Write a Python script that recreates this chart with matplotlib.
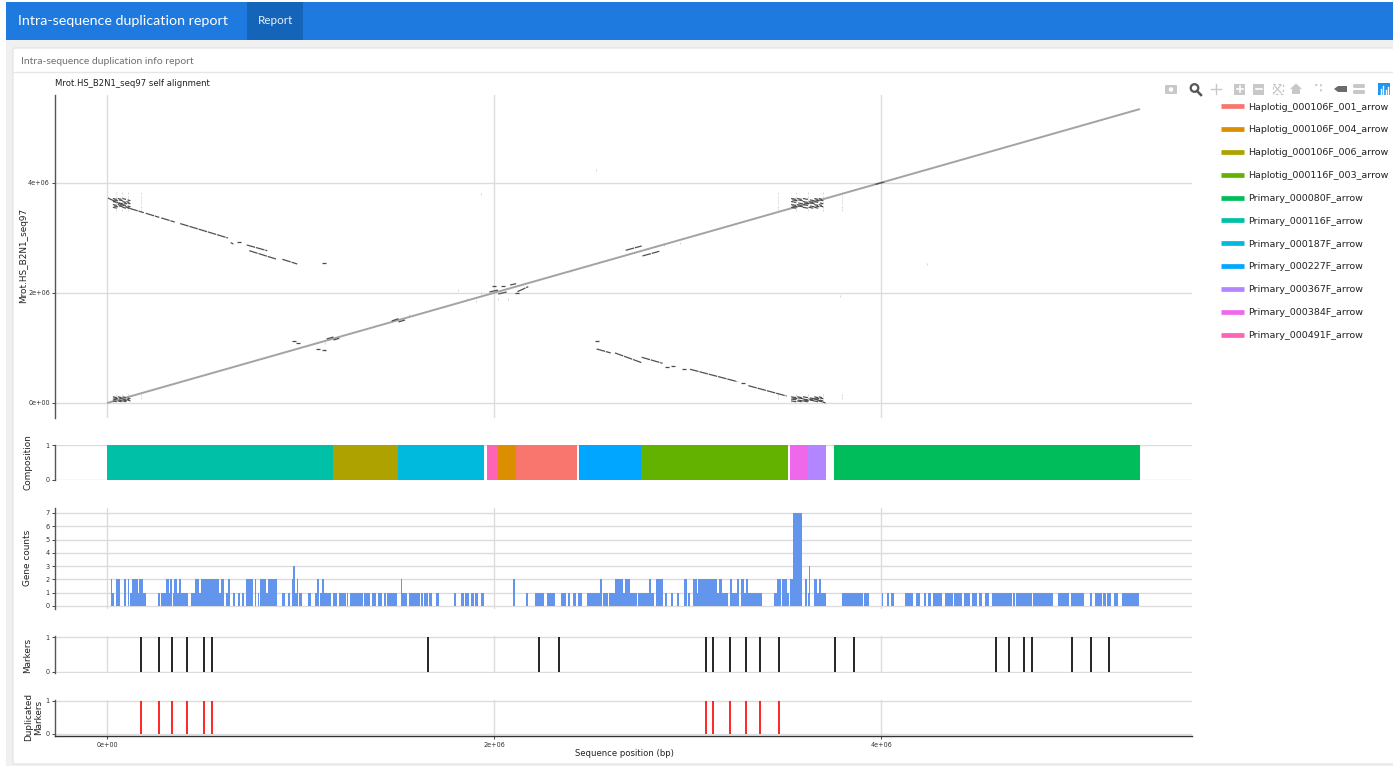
import matplotlib
matplotlib.use("Agg")
import matplotlib.pyplot as plt
from matplotlib.patches import Rectangle, Circle, Polygon, FancyBboxPatch
from matplotlib.lines import Line2D

W, H = 1393, 766
UI_FONT = "Lato"
PLOT_FONT = "DejaVu Sans"

# ---------- data (positions in kb) ----------
contig_names = ["Haplotig_000106F_001_arrow", "Haplotig_000106F_004_arrow", "Haplotig_000106F_006_arrow",
                "Haplotig_000116F_003_arrow", "Primary_000080F_arrow", "Primary_000116F_arrow",
                "Primary_000187F_arrow", "Primary_000227F_arrow", "Primary_000367F_arrow",
                "Primary_000384F_arrow", "Primary_000491F_arrow"]
contig_colors = ["#F8766D", "#DB8E00", "#AEA200", "#64B200", "#00BD5C", "#00C1A7",
                 "#00BADE", "#00A6FF", "#B385FF", "#EF67EB", "#FF63B6"]
contig_start = [2114, 2021, 1168, 2760, 3757, 0, 1504, 2439, 3623, 3530, 1964]
contig_end = [2429, 2114, 1504, 3519, 5338, 1168, 1948, 2760, 3716, 3623, 2021]

gene_start = [19, 26, 48, 86, 109, 119, 131, 158, 164, 184, 262, 277, 303, 320, 326, 339, 346, 362, 372, 381, 434, 455,
              475, 486, 581, 591, 617, 627, 649, 677, 698, 720, 765, 779, 791, 820, 830, 904, 934, 956, 963, 972, 980,
              992, 1041, 1077, 1087, 1101, 1113, 1122, 1168, 1199, 1240, 1254, 1330, 1370, 1401, 1432, 1445, 1518, 1526,
              1562, 1621, 1637, 1664, 1699, 1793, 1831, 1850, 1881, 1902, 1935,
              2100, 2165, 2210, 2276, 2346, 2384, 2408, 2434, 2481, 2548, 2565, 2594, 2625, 2665, 2679, 2705, 2744, 2772,
              2803, 2811, 2837, 2885, 2915, 2946, 2984, 3003, 3027, 3047, 3056, 3151, 3163, 3180, 3220, 3230, 3258,
              3278, 3292, 3304, 3313, 3449, 3461, 3490, 3513, 3530, 3547, 3609, 3623, 3628, 3652, 3669, 3681, 3690,
              3798, 3883, 3911, 4004, 4033, 4053, 4124, 4181, 4221, 4241, 4267, 4329, 4377, 4429, 4470, 4505, 4539,
              4574, 4684, 4698, 4784, 4913, 4980, 5080, 5108, 5149, 5166, 5180, 5204, 5244]
gene_end = [26, 36, 67, 98, 115, 131, 158, 164, 184, 200, 274, 303, 320, 326, 336, 346, 362, 370, 381, 419, 455, 475,
            486, 581, 591, 605, 627, 636, 662, 687, 710, 755, 772, 786, 820, 830, 877, 918, 946, 963, 972, 980, 987,
            1008, 1053, 1087, 1096, 1113, 1122, 1158, 1189, 1235, 1247, 1321, 1359, 1390, 1421, 1442, 1497, 1526, 1550,
            1618, 1631, 1657, 1678, 1714, 1804, 1845, 1871, 1897, 1917, 1948,
            2107, 2174, 2257, 2314, 2374, 2393, 2422, 2453, 2548, 2556, 2591, 2625, 2665, 2679, 2705, 2737, 2770, 2801,
            2811, 2829, 2872, 2896, 2923, 2956, 2996, 3013, 3047, 3056, 3151, 3163, 3180, 3209, 3230, 3258, 3264,
            3292, 3302, 3313, 3383, 3461, 3483, 3513, 3526, 3547, 3590, 3618, 3628, 3633, 3669, 3681, 3690, 3716,
            3881, 3909, 3936, 4010, 4043, 4069, 4165, 4202, 4234, 4258, 4315, 4370, 4419, 4462, 4496, 4520, 4560,
            4677, 4691, 4779, 4887, 4970, 5051, 5092, 5142, 5161, 5177, 5187, 5227, 5335]
gene_count = [2, 1, 2, 2, 2, 1, 2, 1, 2, 1, 1, 1, 2, 1, 2, 1, 2, 1, 2, 1, 1, 2,
              1, 2, 1, 2, 1, 2, 1, 1, 1, 2, 2, 1, 2, 1, 2, 1, 1, 2, 3, 1, 2,
              1, 1, 1, 2, 1, 2, 1, 1, 1, 1, 1, 1, 1, 1, 1, 1, 2, 1,
              1, 1, 1, 1, 1, 1, 1, 1, 1, 1, 1,
              2, 1, 1, 1, 1, 1, 1, 1, 1, 2, 1, 1, 2, 1, 2, 1, 1, 1,
              2, 1, 2, 1, 1, 1, 2, 1, 2, 1, 2, 1, 2, 1, 2, 1, 2,
              2, 1, 2, 1, 1, 2, 2, 1, 2, 7, 2, 1, 3, 2, 1, 2, 1,
              1, 1, 1, 1, 1, 1, 1, 1, 1, 1, 1, 1, 1, 1, 1, 1, 1,
              1, 1, 1, 1, 1, 1, 1, 1, 1, 1, 1, 1, 1]

marker_pos = [176, 269, 336, 413, 501, 543, 1659, 2233, 2336, 3096, 3132, 3220, 3302, 3375, 3473,
              3762, 3860, 4594, 4661, 4739, 4780, 4987, 5085, 5178]
dup_marker_pos = [176, 269, 336, 413, 501, 543, 3096, 3132, 3220, 3302, 3375, 3473]

# self alignment: main diagonal and offset / inverted hits
diag_x = [0, 5338]
diag_y = [0, 5345]
hit_x0 = [5, 115, 200, 280, 378, 639, 722, 735, 906, 1135, 1170, 1471, 1506, 1976, 2022, 2083, 2121, 2680, 2767,
          2530, 2625, 2763, 3013, 3314, 3650, 3970]
hit_x1 = [115, 190, 270, 350, 625, 653, 828, 873, 983, 1170, 1200, 1506, 1540, 2022, 2065, 2114, 2177, 2763, 2854,
          2603, 2763, 2871, 3257, 3512, 3713, 4020]
hit_y0 = [3727, 3540, 3450, 3365, 3262, 2915, 2873, 2769, 2613, 1164, 1145, 1491, 1473, 2018, 1982, 2145, 2024, 2776,
          2673, 982, 910, 831, 613, 315, 85, 3975]
hit_y1 = [3540, 3460, 3375, 3290, 3000, 2890, 2769, 2618, 2527, 1200, 1176, 1533, 1509, 2055, 2018, 2169, 2115, 2855,
          2758, 910, 733, 722, 389, 127, 0, 4020]
spot_x = [682, 1121, 966, 989, 1092, 1121, 2000, 2045, 2121, 2530, 2896, 2923, 2984, 3285]
spot_y = [2927, 2540, 1127, 1096, 982, 964, 2133, 2133, 1994, 1127, 649, 678, 624, 358]
faint_x = [2527, 1933, 4238, 3788, 1814, 1860, 1906, 1933, 2020, 2070, 1560, 1125, 1125, 2400, 2880, 2960]
faint_y = [4236, 3800, 2527, 1945, 2060, 1885, 1860, 2005, 1890, 1890, 1600, 1090, 970, 2400, 2880, 2900]
repeat_col_x = [45, 76, 107, 175, 3465, 3560, 3620, 3698, 3800]
repeat_row_y = [3810, 3750, 3690, 3630, 3570, 3510, 150, 90]
repeat_top_rows = [3710, 3685, 3655, 3630, 3600, 3575, 3550]
repeat_low_rows = [105, 85, 65, 45, 30]
repeat_left_spans = [(30, 50), (55, 75), (80, 98), (100, 115)]
repeat_right_spans = [(3535, 3562), (3566, 3590), (3596, 3622), (3626, 3650), (3655, 3675), (3678, 3695)]

x_ticks = [0, 2000, 4000]
x_tick_labels = ["0e+00", "2e+06", "4e+06"]

# ---------- layout helpers ----------
fig = plt.figure(figsize=(W / 100, H / 100), dpi=100, facecolor="white")


def px_axes(left, top, right, bottom):
    ax = fig.add_axes([left / W, 1 - bottom / H, (right - left) / W, (bottom - top) / H], facecolor="none")
    for s in ("top", "right", "bottom"):
        ax.spines[s].set_visible(False)
    ax.spines["left"].set_color("#555555")
    ax.spines["left"].set_linewidth(1.0)
    ax.tick_params(axis="y", length=2.2, width=0.7, color="#444444", labelsize=4.7, labelcolor="#333333", pad=1.5)
    ax.tick_params(axis="x", length=0, labelbottom=False)
    ax.set_axisbelow(True)
    ax.set_xlim(-269, 5607)
    ax.set_xticks(x_ticks)
    ax.grid(True, color="#dcdcdc", linewidth=1.0)
    return ax


def ylabel(text, y_px, x_px=28):
    fig.text(x_px / W, 1 - y_px / H, text, rotation=90, ha="center", va="center", fontsize=6.4,
             color="#222222", family=PLOT_FONT, linespacing=1.1)


# ---------- page chrome ----------
bg = fig.add_axes([0, 0, 1, 1], zorder=-5)
bg.set_xlim(0, W)
bg.set_ylim(H, 0)
bg.axis("off")
bg.add_patch(Rectangle((6, 40), W, H, color="#f0f0f0", lw=0))
bg.add_patch(Rectangle((6, 2), W, 38, color="#1F7AE0", lw=0))
bg.add_patch(Rectangle((247, 2), 56, 38, color="#1464BA", lw=0))
bg.add_patch(FancyBboxPatch((13, 48), W, 716, boxstyle="round,pad=0,rounding_size=2", fc="white", ec="#e2e2e2", lw=0.8))
bg.plot([13, W], [72, 72], color="#e6e6e6", lw=1)
bg.text(18, 21, "Intra-sequence duplication report", color="white", fontsize=10.25, family=UI_FONT, va="center")
bg.text(258, 21, "Report", color="#eaf2fd", fontsize=8.4, family=UI_FONT, va="center")
bg.text(21, 62, "Intra-sequence duplication info report", color="#707070", fontsize=7.5, family=UI_FONT, va="center")

# modebar icons
ic = "#c8c8c8"
bg.add_patch(FancyBboxPatch((1165, 85), 12, 9, boxstyle="round,pad=0,rounding_size=1", fc=ic, lw=0))
bg.add_patch(Circle((1171, 89.5), 2.3, fc="white", lw=0))
bg.add_patch(Circle((1194.5, 88), 3.8, fc="none", ec="#555555", lw=1.6))
bg.plot([1197, 1201], [91, 95], color="#555555", lw=1.8)
bg.plot([1211, 1221], [89, 89], color=ic, lw=1.0)
bg.plot([1216, 1216], [84, 94], color=ic, lw=1.0)
for cx, is_plus in ((1239.5, True), (1258.5, False)):
    bg.add_patch(Rectangle((cx - 5.5, 83.5), 11, 11, fc=ic, lw=0))
    bg.plot([cx - 3, cx + 3], [89, 89], color="white", lw=1.2)
    if is_plus:
        bg.plot([cx, cx], [86, 92], color="white", lw=1.2)
bg.add_patch(Rectangle((1272.5, 84), 10, 10, fc="none", ec=ic, lw=0.9, ls=(0, (2, 2))))
bg.plot([1274, 1281], [85, 93], color=ic, lw=0.9)
bg.plot([1281, 1274], [85, 93], color=ic, lw=0.9)
bg.add_patch(Polygon([(1290, 89), (1296, 83.5), (1302, 89), (1300, 89), (1300, 94), (1292, 94), (1292, 89)], fc=ic, lw=0))
bg.plot([1320.5, 1320.5], [84, 94], color=ic, lw=1.2, ls=(0, (1.5, 1.5)))
bg.plot([1315, 1320], [85, 85], color=ic, lw=1.2, ls=(0, (1.5, 1.5)))
bg.add_patch(Polygon([(1334, 89), (1338, 86), (1347, 86), (1347, 92), (1338, 92)], fc="#6b6b6b", lw=0))
bg.add_patch(FancyBboxPatch((1353, 84), 12, 4, boxstyle="round,pad=0,rounding_size=1.5", fc=ic, lw=0))
bg.add_patch(FancyBboxPatch((1353, 90), 12, 4, boxstyle="round,pad=0,rounding_size=1.5", fc=ic, lw=0))
bg.add_patch(Rectangle((1378, 83), 12, 12, fc="#1E96F0", lw=0))
for bx, bt in ((1380.5, 89), (1383, 86), (1385.5, 90), (1388, 87)):
    bg.plot([bx, bx], [bt, 93.5], color="white", lw=1.0)

# ---------- self-alignment dot plot ----------
ax_dot = px_axes(55, 95, 1192, 418)
ax_dot.set_ylim(-273, 5600)
ax_dot.set_yticks([0, 2000, 4000])
ax_dot.set_yticklabels(["0e+00", "2e+06", "4e+06"])
ax_dot.plot(diag_x, diag_y, color="#a3a3a3", lw=1.4, solid_capstyle="butt", zorder=3)
for x0, x1, y0, y1 in zip(hit_x0, hit_x1, hit_y0, hit_y1):
    ax_dot.plot([x0, x1], [y0, y1], color="#505050", lw=0.9, ls=(0, (7, 0.7)), dash_capstyle="butt", zorder=4)
ax_dot.plot(spot_x, spot_y, ls="none", marker="_", ms=2.2, mew=0.9, color="#4a4a4a", zorder=4)
ax_dot.plot(faint_x, faint_y, ls="none", marker="|", ms=2, mew=0.4, color="#b5b5b5", zorder=2)
for col in repeat_col_x:
    ax_dot.plot([col] * len(repeat_row_y), repeat_row_y, ls="none", marker="|", ms=2, mew=0.4, color="#bdbdbd", zorder=2)
for rows in (repeat_top_rows, repeat_low_rows):
    for r_i, row in enumerate(rows):
        for spans in (repeat_left_spans, repeat_right_spans):
            shift = 6 if r_i % 2 else 0
            for s_i, (a, b) in enumerate(spans):
                if (r_i + s_i) % 4 != 3:
                    ax_dot.plot([a + shift, b + shift], [row + 8, row - 8], color="#4c4c4c", lw=0.85,
                                solid_capstyle="butt", zorder=4)
fig.text(55 / W, 1 - 84 / H, "Mrot.HS_B2N1_seq97 self alignment", fontsize=6.15, va="center", color="#222222", family=PLOT_FONT)
ylabel("Mrot.HS_B2N1_seq97", 255, 23.5)

# ---------- composition ----------
ax_comp = px_axes(55, 445, 1192, 480)
ax_comp.set_ylim(0, 1)
ax_comp.set_yticks([0, 1])
ax_comp.xaxis.grid(False)
for s, e, c in zip(contig_start, contig_end, contig_colors):
    ax_comp.bar(s, 1, width=e - s, align="edge", color=c, lw=0, zorder=3)
ylabel("Composition", 462)

# ---------- gene counts ----------
ax_gene = px_axes(55, 508, 1192, 609)
ax_gene.set_ylim(-0.226, 7.37)
ax_gene.set_yticks(range(8))
for s, e, n in zip(gene_start, gene_end, gene_count):
    ax_gene.bar(s, n, width=e - s, align="edge", color="#6495ED", lw=0, zorder=3)
ylabel("Gene counts", 558)

# ---------- markers ----------
ax_mark = px_axes(55, 636, 1192, 673)
ax_mark.set_ylim(-0.03, 1.03)
ax_mark.set_yticks([0, 1])
ax_mark.vlines(marker_pos, 0, 1, color="black", lw=1.2, zorder=3)
ylabel("Markers", 655)

ax_dup = px_axes(55, 700, 1192, 736)
ax_dup.set_ylim(-0.07, 1.03)
ax_dup.set_yticks([0, 1])
ax_dup.vlines(dup_marker_pos, 0, 1, color="red", lw=1.2, zorder=3)
ax_dup.spines["bottom"].set_visible(True)
ax_dup.spines["bottom"].set_color("#333333")
ax_dup.spines["bottom"].set_linewidth(1.0)
ax_dup.tick_params(axis="x", length=2.2, width=0.7, color="#444444", labelbottom=True, labelsize=4.7, labelcolor="#333333", pad=2)
ax_dup.set_xticklabels(x_tick_labels)
ylabel("Duplicated\nMarkers", 717, 33.5)
fig.text(624 / W, 1 - 753 / H, "Sequence position (bp)", fontsize=6.1, ha="center", va="center", color="#222222", family=PLOT_FONT)

# ---------- legend ----------
handles = [Line2D([], [], color=c, lw=3.4, solid_capstyle="butt") for c in contig_colors]
fig.legend(handles, contig_names, loc="upper left", bbox_to_anchor=(1221 / W, 1 - 102.5 / H), frameon=False,
           handlelength=2.43, handletextpad=0.47, labelspacing=1.465, borderpad=0, borderaxespad=0,
           labelcolor="#222222", prop={"family": PLOT_FONT, "size": 6.8})

fig.savefig("out.png", dpi=100, facecolor="white")
